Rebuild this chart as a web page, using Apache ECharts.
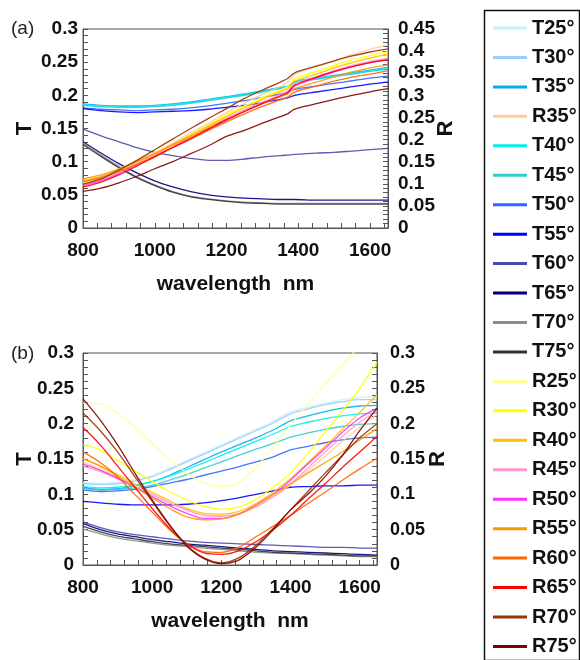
<!DOCTYPE html>
<html><head><meta charset="utf-8">
<script src="https://cdn.jsdelivr.net/npm/echarts@6/dist/echarts.min.js"></script>
<style>html,body{margin:0;padding:0;background:#fff}#c{width:580px;height:660px}</style>
</head><body><div id="c"></div>
<script>
// ---------- legend / names ----------
const legendNames = ['T25°','T30°','T35°','R35°','T40°','T45°','T50°','T55°','T60°','T65°','T70°','T75°',
  'R25°','R30°','R40°','R45°','R50°','R55°','R60°','R65°','R70°','R75°'];
const seriesColors = ['#c8f2f8','#99ccff','#00b0f0','#ffcc99','#00f0f0','#33cccc','#3366ff','#0000ff','#4a4aa8','#000080','#8c8c8c','#333333',
  '#ffff99','#ffff00','#ffc000','#ff99cc','#ff33ff','#ff9900','#ff6600','#ff0000','#993300','#800000'];

// ---------- tick labels ----------
const xTickLabels = [800, 1000, 1200, 1400, 1600];
const tTickLabels = [0, 0.05, 0.1, 0.15, 0.2, 0.25, 0.3];
const rTickLabelsA = [0, 0.05, 0.1, 0.15, 0.2, 0.25, 0.3, 0.35, 0.4, 0.45];
const rTickLabelsB = [0, 0.05, 0.1, 0.15, 0.2, 0.25, 0.3];

// ---------- panel (a) : wavelength (nm) ----------
const wavelengthA = [800, 850, 900, 950, 1000, 1050, 1100, 1150, 1200, 1250, 1300, 1350, 1370, 1390, 1450, 1500, 1550, 1600, 1650];
// transmittance T (left axis)
const aT35 = [0.187,0.185,0.184,0.184,0.185,0.187,0.190,0.194,0.198,0.202,0.207,0.212,0.214,0.221,0.226,0.230,0.234,0.238,0.242];
const aT40 = [0.186,0.184,0.183,0.183,0.184,0.186,0.189,0.193,0.197,0.201,0.206,0.211,0.213,0.220,0.225,0.229,0.233,0.237,0.241];
const aT45 = [0.185,0.183,0.182,0.182,0.183,0.185,0.188,0.192,0.196,0.200,0.205,0.210,0.212,0.219,0.224,0.228,0.232,0.236,0.239];
const aT50 = [0.181,0.179,0.178,0.177,0.178,0.179,0.181,0.184,0.188,0.192,0.197,0.202,0.205,0.209,0.214,0.218,0.222,0.226,0.229];
const aT55 = [0.180,0.177,0.175,0.174,0.175,0.176,0.177,0.179,0.182,0.185,0.189,0.194,0.196,0.200,0.205,0.209,0.213,0.217,0.220];
const aT60 = [0.149,0.139,0.130,0.121,0.114,0.109,0.105,0.102,0.102,0.104,0.107,0.109,0.110,0.111,0.113,0.114,0.116,0.118,0.120];
const aT65 = [0.130,0.113,0.097,0.083,0.071,0.062,0.055,0.050,0.047,0.045,0.044,0.043,0.043,0.043,0.042,0.042,0.042,0.042,0.042];
const aT70 = [0.128,0.110,0.093,0.077,0.065,0.055,0.048,0.044,0.041,0.039,0.038,0.037,0.037,0.037,0.037,0.037,0.037,0.037,0.037];
const aT75 = [0.126,0.108,0.091,0.076,0.064,0.054,0.047,0.043,0.040,0.038,0.037,0.036,0.036,0.036,0.036,0.036,0.036,0.036,0.036];
// reflectance R (right axis)
const aR25 = [0.104,0.114,0.131,0.150,0.170,0.191,0.212,0.234,0.257,0.276,0.296,0.312,0.320,0.338,0.353,0.365,0.375,0.384,0.390];
const aR30 = [0.102,0.113,0.129,0.149,0.168,0.189,0.210,0.233,0.255,0.275,0.294,0.311,0.318,0.336,0.354,0.368,0.380,0.390,0.399];
const aR35 = [0.105,0.116,0.132,0.150,0.171,0.192,0.215,0.237,0.261,0.282,0.302,0.320,0.329,0.348,0.365,0.378,0.392,0.404,0.414];
const aR40 = [0.108,0.117,0.132,0.150,0.168,0.189,0.210,0.231,0.252,0.272,0.291,0.308,0.315,0.332,0.348,0.362,0.374,0.384,0.393];
const aR45 = [0.099,0.110,0.126,0.146,0.165,0.186,0.206,0.227,0.248,0.267,0.285,0.302,0.309,0.326,0.342,0.356,0.368,0.377,0.384];
const aR50 = [0.096,0.107,0.123,0.143,0.162,0.182,0.201,0.222,0.243,0.263,0.281,0.297,0.305,0.321,0.339,0.353,0.365,0.374,0.381];
const aR55 = [0.111,0.120,0.134,0.150,0.168,0.188,0.207,0.227,0.246,0.264,0.282,0.297,0.303,0.315,0.330,0.342,0.353,0.362,0.369];
const aR60 = [0.105,0.114,0.128,0.144,0.162,0.182,0.201,0.221,0.240,0.258,0.275,0.290,0.296,0.308,0.321,0.332,0.341,0.348,0.356];
const aR65 = [0.093,0.104,0.120,0.140,0.161,0.182,0.203,0.224,0.245,0.264,0.282,0.299,0.306,0.323,0.341,0.354,0.365,0.374,0.380];
const aR70 = [0.099,0.111,0.131,0.153,0.177,0.201,0.225,0.248,0.270,0.293,0.312,0.330,0.338,0.351,0.366,0.378,0.389,0.398,0.405];
const aR75 = [0.083,0.090,0.102,0.117,0.134,0.150,0.168,0.186,0.207,0.221,0.237,0.252,0.258,0.269,0.281,0.291,0.300,0.308,0.315];

// ---------- panel (b) ----------
const wavelengthB = [800, 850, 900, 950, 1000, 1050, 1100, 1150, 1200, 1250, 1300, 1350, 1400, 1450, 1500, 1550, 1600, 1650];
const bT25 = [0.117,0.116,0.117,0.121,0.127,0.137,0.148,0.159,0.170,0.181,0.192,0.203,0.217,0.223,0.229,0.234,0.237,0.238];
const bT30 = [0.115,0.114,0.115,0.119,0.125,0.135,0.146,0.157,0.168,0.179,0.190,0.201,0.214,0.221,0.227,0.231,0.234,0.234];
const bT35 = [0.109,0.107,0.108,0.112,0.118,0.127,0.138,0.149,0.160,0.170,0.180,0.191,0.204,0.211,0.217,0.222,0.225,0.226];
const bT40 = [0.111,0.109,0.110,0.113,0.118,0.126,0.135,0.145,0.155,0.165,0.175,0.185,0.196,0.202,0.207,0.211,0.214,0.215];
const bT45 = [0.108,0.106,0.107,0.109,0.113,0.120,0.128,0.137,0.146,0.155,0.164,0.172,0.181,0.187,0.192,0.196,0.199,0.200];
const bT50 = [0.106,0.104,0.105,0.107,0.111,0.116,0.121,0.127,0.133,0.139,0.146,0.153,0.163,0.168,0.173,0.177,0.180,0.181];
const bT55 = [0.090,0.088,0.086,0.085,0.085,0.085,0.086,0.088,0.091,0.095,0.100,0.105,0.110,0.111,0.112,0.112,0.113,0.113];
const bT60 = [0.061,0.053,0.047,0.043,0.040,0.037,0.034,0.032,0.031,0.030,0.029,0.028,0.027,0.026,0.025,0.025,0.024,0.024];
const bT65 = [0.059,0.050,0.044,0.040,0.036,0.033,0.030,0.028,0.026,0.024,0.022,0.020,0.019,0.018,0.017,0.016,0.015,0.014];
const bT70 = [0.051,0.044,0.038,0.034,0.031,0.028,0.026,0.024,0.022,0.020,0.018,0.017,0.016,0.015,0.014,0.013,0.012,0.012];
const bT75 = [0.055,0.047,0.041,0.037,0.033,0.030,0.028,0.026,0.024,0.022,0.020,0.018,0.017,0.016,0.015,0.014,0.013,0.013];
const bR25 = [0.229,0.228,0.215,0.195,0.172,0.150,0.130,0.116,0.111,0.117,0.138,0.167,0.198,0.228,0.256,0.283,0.310,0.340];
const bR30 = [0.170,0.163,0.148,0.133,0.118,0.104,0.092,0.083,0.079,0.082,0.093,0.110,0.130,0.158,0.188,0.218,0.250,0.287];
const bR35 = [0.146,0.136,0.124,0.112,0.100,0.088,0.078,0.071,0.070,0.073,0.082,0.096,0.113,0.133,0.154,0.175,0.195,0.213];
const bR40 = [0.150,0.140,0.128,0.115,0.103,0.091,0.080,0.073,0.072,0.076,0.087,0.103,0.122,0.145,0.168,0.192,0.216,0.241];
const bR45 = [0.140,0.132,0.122,0.111,0.100,0.088,0.078,0.070,0.069,0.072,0.083,0.097,0.115,0.137,0.160,0.182,0.202,0.218];
const bR50 = [0.143,0.134,0.123,0.110,0.097,0.084,0.073,0.066,0.066,0.072,0.085,0.100,0.120,0.143,0.165,0.188,0.208,0.222];
const bR55 = [0.151,0.140,0.126,0.110,0.095,0.080,0.068,0.064,0.065,0.072,0.085,0.100,0.115,0.130,0.145,0.160,0.177,0.193];
const bR60 = [0.160,0.145,0.125,0.100,0.075,0.050,0.030,0.019,0.018,0.025,0.040,0.055,0.070,0.087,0.103,0.120,0.136,0.151];
const bR65 = [0.195,0.170,0.140,0.110,0.080,0.052,0.030,0.017,0.015,0.020,0.033,0.050,0.070,0.093,0.115,0.138,0.160,0.182];
const bR70 = [0.215,0.190,0.160,0.125,0.090,0.056,0.028,0.010,0.003,0.010,0.028,0.052,0.078,0.104,0.130,0.155,0.180,0.200];
const bR75 = [0.235,0.205,0.170,0.130,0.092,0.057,0.027,0.009,0.002,0.007,0.025,0.050,0.078,0.100,0.125,0.155,0.190,0.222];

// ---------- build options ----------
const FONT = '"Liberation Sans", Arial, sans-serif';
const colorOf = n => seriesColors[legendNames.indexOf(n)];
const panelA = [['T35°',aT35],['T40°',aT40],['T45°',aT45],['T50°',aT50],['T55°',aT55],['T60°',aT60],['T65°',aT65],['T70°',aT70],['T75°',aT75],
  ['R25°',aR25],['R30°',aR30],['R35°',aR35],['R40°',aR40],['R45°',aR45],['R50°',aR50],['R55°',aR55],['R60°',aR60],['R65°',aR65],['R70°',aR70],['R75°',aR75]];
const panelB = [['T25°',bT25],['T30°',bT30],['T35°',bT35],['T40°',bT40],['T45°',bT45],['T50°',bT50],['T55°',bT55],['T60°',bT60],['T65°',bT65],['T70°',bT70],['T75°',bT75],
  ['R25°',bR25],['R30°',bR30],['R35°',bR35],['R40°',bR40],['R45°',bR45],['R50°',bR50],['R55°',bR55],['R60°',bR60],['R65°',bR65],['R70°',bR70],['R75°',bR75]];

function mkSeries(list, wl, xi, yT, yR) {
  return list.map(([name, vals]) => ({
    name, type: 'line', xAxisIndex: xi, yAxisIndex: name[0] === 'T' ? yT : yR,
    data: vals.map((v, i) => [wl[i], v]), showSymbol: false, symbol: 'none', smooth: 0.3,
    lineStyle: { color: colorOf(name), width: 1.3, opacity: 0.9 }, itemStyle: { color: colorOf(name) },
    emphasis: { disabled: true }, clip: true
  }));
}
const labelFmt = (labels) => (v) => {
  const hit = labels.find(l => Math.abs(l - v) < 1e-6);
  return hit === undefined ? '' : String(hit);
};
const tickStyle = { show: true, inside: true, length: 5, lineStyle: { color: '#555', width: 1 } };
const lblStyle = (fs) => ({ color: '#111', fontWeight: 'bold', fontSize: fs, fontFamily: FONT });
function xAx(gi, labels) {
  return { type: 'value', gridIndex: gi, min: 800, max: 1650, interval: 40,
    name: 'wavelength  nm', nameLocation: 'middle', nameGap: 46, nameMoveOverlap: false,
    nameTextStyle: { color: '#111', fontWeight: 'bold', fontSize: 21, fontFamily: FONT },
    axisLine: { show: true, lineStyle: { color: '#555', width: 1 } }, axisTick: tickStyle,
    axisLabel: Object.assign({ formatter: labelFmt(labels), margin: 13, interval: 0, showMaxLabel: true, showMinLabel: true }, lblStyle(19)),
    splitLine: { show: false } };
}
function yAx(gi, max, labels, pos, name, margin, nameGap, fs) {
  return { type: 'value', gridIndex: gi, min: 0, max, interval: 0.01, position: pos,
    name, nameLocation: 'middle', nameGap, nameRotate: 90, nameMoveOverlap: false,
    nameTextStyle: { color: '#111', fontWeight: 'bold', fontSize: 22, fontFamily: FONT },
    axisLine: { show: true, lineStyle: { color: '#555', width: 1 } }, axisTick: tickStyle,
    axisLabel: Object.assign({ formatter: labelFmt(labels), margin, interval: 0 }, lblStyle(fs)),
    splitLine: { show: false } };
}

const option = {
  animation: false,
  backgroundColor: '#fff',
  textStyle: { fontFamily: FONT },
  grid: [
    { left: 83, top: 29, width: 305, height: 199, show: true, borderColor: '#555', borderWidth: 1, backgroundColor: 'transparent', outerBoundsMode: 'none' },
    { left: 83, top: 353, width: 294, height: 212, show: true, borderColor: '#555', borderWidth: 1, backgroundColor: 'transparent', outerBoundsMode: 'none' }
  ],
  xAxis: [xAx(0, xTickLabels), xAx(1, xTickLabels)],
  yAxis: [
    yAx(0, 0.3, tTickLabels, 'left', 'T', 5, 47, 19),
    yAx(0, 0.45, rTickLabelsA, 'right', 'R', 10, 47, 19),
    yAx(1, 0.3, tTickLabels, 'left', 'T', 9, 47, 19),
    yAx(1, 0.3, rTickLabelsB, 'right', 'R', 13, 50, 18)
  ],
  legend: {
    orient: 'vertical', left: 493, top: 18, padding: 0,
    itemWidth: 34, itemHeight: 3, itemGap: 9.45, icon: 'rect',
    selectedMode: false,
    textStyle: { color: '#111', fontSize: 20, fontWeight: 'bold', lineHeight: 20, fontFamily: FONT },
    data: legendNames
  },
  graphic: [
    { type: 'rect', left: 482, top: 8, shape: { width: 95, height: 650 }, style: { fill: 'none', stroke: '#111', lineWidth: 1.5 }, silent: true },
    { type: 'text', left: 11, top: 19, style: { text: '(a)', fontSize: 19, fontFamily: FONT, fill: '#222' } },
    { type: 'text', left: 11, top: 344, style: { text: '(b)', fontSize: 19, fontFamily: FONT, fill: '#222' } }
  ],
  series: [].concat(mkSeries(panelA, wavelengthA, 0, 0, 1), mkSeries(panelB, wavelengthB, 1, 2, 3))
};
const chart = echarts.init(document.getElementById('c'), null, { renderer: 'canvas' });
chart.setOption(option);
</script>
</body></html>
